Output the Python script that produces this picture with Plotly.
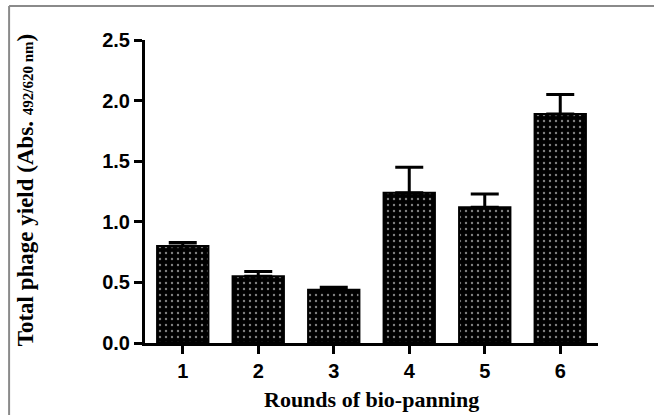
import plotly.graph_objects as go

rounds = ["1", "2", "3", "4", "5", "6"]
yield_mean = [0.80, 0.55, 0.44, 1.24, 1.12, 1.89]
yield_err = [0.03, 0.04, 0.02, 0.21, 0.11, 0.16]
y_ticks = [0.0, 0.5, 1.0, 1.5, 2.0, 2.5]

fig = go.Figure()
fig.add_trace(go.Bar(
    x=[1, 2, 3, 4, 5, 6],
    y=yield_mean,
    width=0.68,
    marker=dict(
        color="black",
        line=dict(color="black", width=2),
        pattern=dict(shape=".", fgcolor="white", bgcolor="black", size=6, solidity=0.12, fillmode="overlay"),
    ),
    error_y=dict(type="data", array=yield_err, arrayminus=[0]*6, symmetric=False,
                 color="black", thickness=3, width=14),
))

fig.update_layout(
    width=654, height=415,
    margin=dict(l=145, r=56, t=40, b=72),
    plot_bgcolor="white", paper_bgcolor="white",
    showlegend=False,
    bargap=0.3,
    xaxis=dict(
        range=[0.5, 6.5], tickmode="array", tickvals=[1, 2, 3, 4, 5, 6], ticktext=rounds,
        showline=True, linecolor="black", linewidth=3, ticks="outside", ticklen=8, tickwidth=3,
        tickcolor="black", showgrid=False, zeroline=False,
        tickfont=dict(family="Arial, Liberation Sans", size=20, color="black", weight="bold"),
    ),
    yaxis=dict(
        range=[0, 2.5], tickmode="array", tickvals=y_ticks, ticktext=[f"{v:.1f}" for v in y_ticks],
        showline=True, linecolor="black", linewidth=3, ticks="outside", ticklen=8, tickwidth=3,
        tickcolor="black", showgrid=False, zeroline=False,
        tickfont=dict(family="Arial, Liberation Sans", size=20, color="black", weight="bold"),
    ),
    annotations=[
        dict(text="<b>Total phage yield (Abs. <span style='font-size:15px'>492/620 nm</span>)</b>",
             xref="paper", yref="paper", x=-0.262, y=0.505, textangle=-90, showarrow=False,
             font=dict(family="Liberation Serif, Times New Roman", size=23, color="black"),
             xanchor="center", yanchor="middle"),
        dict(text="<b>Rounds of bio-panning</b>",
             xref="paper", yref="paper", x=0.5, y=-0.188, showarrow=False,
             font=dict(family="Liberation Serif, Times New Roman", size=22, color="black"),
             xanchor="center", yanchor="middle"),
    ],
    shapes=[
        dict(type="line", xref="paper", yref="paper", x0=-0.300, y0=1.112, x1=1.2, y1=1.112,
             line=dict(color="#8a8a8a", width=2)),
        dict(type="line", xref="paper", yref="paper", x0=-0.300, y0=1.112, x1=-0.300, y1=-0.3,
             line=dict(color="#8a8a8a", width=2)),
    ],
)

fig.write_html("out.html", config={"displayModeBar": False},
               post_script="document.body.style.margin='0';document.body.style.overflow='hidden';")
